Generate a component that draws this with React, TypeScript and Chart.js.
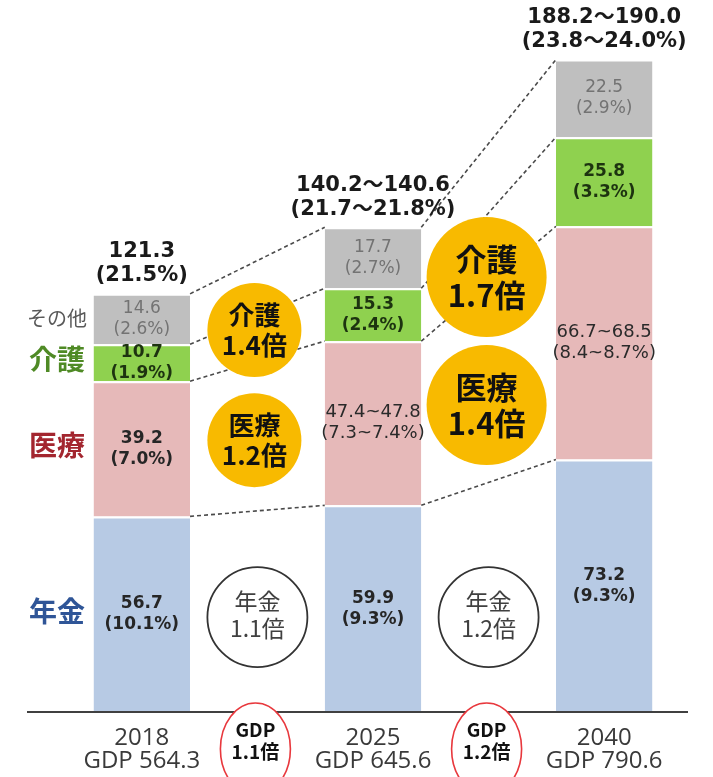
import React, { useEffect, useRef } from "react";
import { Chart, registerables } from "chart.js";

Chart.register(...registerables);

// ---- data ----
const years = ["2018", "", "2025", "", "2040"];
const gdpLabels = ["GDP 564.3", "", "GDP 645.6", "", "GDP 790.6"];
const seriesNames = ["年金", "医療", "介護", "その他"];
const pension = [56.7, null, 59.9, null, 73.2];
const medical = [39.2, null, 47.6, null, 67.6];
const care = [10.7, null, 15.3, null, 25.8];
const other = [14.6, null, 17.7, null, 22.5];

const pensionText = [["56.7", "(10.1%)"], null, ["59.9", "(9.3%)"], null, ["73.2", "(9.3%)"]];
const medicalText = [["39.2", "(7.0%)"], null, ["47.4~47.8", "(7.3~7.4%)"], null, ["66.7~68.5", "(8.4~8.7%)"]];
const careText = [["10.7", "(1.9%)"], null, ["15.3", "(2.4%)"], null, ["25.8", "(3.3%)"]];
const otherText = [["14.6", "(2.6%)"], null, ["17.7", "(2.7%)"], null, ["22.5", "(2.9%)"]];
const totalText = [["121.3", "(21.5%)"], null, ["140.2～140.6", "(21.7～21.8%)"], null, ["188.2～190.0", "(23.8～24.0%)"]];

const careGrowth = ["介護", "1.4倍", "介護", "1.7倍"];
const medicalGrowth = ["医療", "1.2倍", "医療", "1.4倍"];
const pensionGrowth = ["年金", "1.1倍", "年金", "1.2倍"];
const gdpGrowth = ["GDP", "1.1倍", "GDP", "1.2倍"];

// ---- styles ----
const COLORS = ["#b7cae4", "#e6b9b9", "#8fd14f", "#bfbfbf"];
const LEFT_COLORS = ["#2f5597", "#a3262f", "#4f8a25", "#595959"];
const NUM = '"DejaVu Sans", "Noto Sans CJK JP", sans-serif';
const JP = '"Noto Sans CJK JP", sans-serif';

function lines(ctx: CanvasRenderingContext2D, arr: string[], x: number, yc: number, lh: number) {
  const n = arr.length;
  arr.forEach((t, i) => ctx.fillText(t, x, yc + (i - (n - 1) / 2) * lh));
}

const overlay = {
  id: "overlay",
  afterDatasetsDraw(chart: any) {
    const ctx: CanvasRenderingContext2D = chart.ctx;
    const xs = chart.scales.x;
    const ys = chart.scales.y;
    const metas = [0, 1, 2, 3].map((i) => chart.getDatasetMeta(i));
    const bar = (i: number, j: number) => metas[i].data[j].getProps(["x", "y", "base", "width"], true);

    ctx.save();
    // dashed connectors
    ctx.strokeStyle = "#4a4a4a";
    ctx.lineWidth = 1.6;
    ctx.setLineDash([4, 3]);
    [[0, 2], [2, 4]].forEach(([a, b]) => {
      for (let i = 0; i < 4; i++) {
        const p = bar(i, a);
        const q = bar(i, b);
        ctx.beginPath();
        ctx.moveTo(p.x + p.width / 2, p.y);
        ctx.lineTo(q.x - q.width / 2, q.y);
        ctx.stroke();
      }
    });
    ctx.setLineDash([]);

    // yellow bubbles
    const bubbles = [
      { slot: 1, v: 110.7, r: 47, size: 26, txt: careGrowth.slice(0, 2) },
      { slot: 1, v: 78.8, r: 47, size: 26, txt: medicalGrowth.slice(0, 2) },
      { slot: 3, v: 126.1, r: 60, size: 31, txt: careGrowth.slice(2, 4) },
      { slot: 3, v: 89.0, r: 60, size: 31, txt: medicalGrowth.slice(2, 4) },
    ];
    bubbles.forEach((b) => {
      const cx = xs.getPixelForValue(b.slot) - (b.slot === 1 ? 3 : 2);
      const cy = ys.getPixelForValue(b.v);
      ctx.beginPath();
      ctx.arc(cx, cy, b.r, 0, Math.PI * 2);
      ctx.fillStyle = "#f8ba00";
      ctx.fill();
      ctx.fillStyle = "#111";
      ctx.font = `bold ${b.size}px ${JP}`;
      ctx.textAlign = "center";
      ctx.textBaseline = "middle";
      lines(ctx, b.txt, cx, cy, b.size * 1.15);
    });

    // pension circles
    [1, 3].forEach((slot, k) => {
      const cx = xs.getPixelForValue(slot);
      const cy = ys.getPixelForValue(27.5);
      ctx.beginPath();
      ctx.arc(cx, cy, 50, 0, Math.PI * 2);
      ctx.fillStyle = "#fff";
      ctx.fill();
      ctx.strokeStyle = "#333";
      ctx.lineWidth = 1.8;
      ctx.stroke();
      ctx.fillStyle = "#404040";
      ctx.font = `23px ${JP}`;
      ctx.textAlign = "center";
      ctx.textBaseline = "middle";
      lines(ctx, pensionGrowth.slice(k * 2, k * 2 + 2), cx, cy - 2, 27);
    });

    // segment labels
    const texts = [pensionText, medicalText, careText, otherText];
    ctx.textAlign = "center";
    ctx.textBaseline = "middle";
    for (let i = 0; i < 4; i++) {
      metas[i].data.forEach((el: any, j: number) => {
        const t = texts[i][j];
        if (!t) return;
        const p = bar(i, j);
        const yc = (p.y + p.base) / 2;
        const isRange = t[0].includes("~");
        if (i === 3) {
          ctx.font = `17px ${NUM}`;
          ctx.fillStyle = "#737373";
        } else if (isRange) {
          ctx.font = `18px ${NUM}`;
          ctx.fillStyle = "#2a2a2a";
        } else {
          ctx.font = `bold 17px ${NUM}`;
          ctx.fillStyle = i === 2 ? "#1d3310" : "#262626";
        }
        lines(ctx, t, p.x, yc, 21);
      });
    }

    // totals
    ctx.font = `bold 21px ${NUM}`;
    ctx.fillStyle = "#1a1a1a";
    totalText.forEach((t, j) => {
      if (!t) return;
      const p = bar(3, j);
      ctx.fillText(t[0], p.x, p.y - 42);
      ctx.fillText(t[1], p.x, p.y - 18);
    });

    // left series labels
    const first = [0, 1, 2, 3].map((i) => bar(i, 0));
    first.forEach((p, i) => {
      const yc = (p.y + p.base) / 2;
      ctx.fillStyle = LEFT_COLORS[i];
      ctx.font = i === 3 ? `20px ${JP}` : `bold 28px ${JP}`;
      ctx.fillText(seriesNames[i], 57, i === 3 ? yc - 1 : yc - 3);
    });
    ctx.restore();
  },
  afterDraw(chart: any) {
    const ctx: CanvasRenderingContext2D = chart.ctx;
    const xs = chart.scales.x;
    const base = chart.chartArea.bottom;
    ctx.save();
    ctx.strokeStyle = "#404040";
    ctx.lineWidth = 2;
    ctx.beginPath();
    ctx.moveTo(27, base);
    ctx.lineTo(688, base);
    ctx.stroke();

    [1, 3].forEach((slot, k) => {
      const cx = xs.getPixelForValue(slot) - 2;
      const cy = base + 37;
      ctx.beginPath();
      ctx.ellipse(cx, cy, 35, 46, 0, 0, Math.PI * 2);
      ctx.fillStyle = "#fff";
      ctx.fill();
      ctx.strokeStyle = "#e8383d";
      ctx.lineWidth = 1.6;
      ctx.stroke();
      ctx.fillStyle = "#111";
      ctx.font = `bold 19px ${JP}`;
      ctx.textAlign = "center";
      ctx.textBaseline = "middle";
      ctx.fillText(gdpGrowth[k * 2], cx, base + 18);
      ctx.fillText(gdpGrowth[k * 2 + 1], cx, base + 40);
    });
    ctx.restore();
  },
};

export default function App() {
  const ref = useRef<HTMLCanvasElement>(null);
  useEffect(() => {
    document.body.style.margin = "0";
    const series = [pension, medical, care, other];
    const chart = new Chart(ref.current!, {
      type: "bar",
      data: {
        labels: years.map((y, i) => (y ? [y, gdpLabels[i]] : "")),
        datasets: series.map((d, i) => ({
          label: seriesNames[i],
          data: d,
          backgroundColor: COLORS[i],
          borderColor: "#ffffff",
          borderWidth: { top: 2, left: 0, right: 0, bottom: 0 },
          borderSkipped: false,
          categoryPercentage: 1,
          barPercentage: 0.835,
        })),
      },
      options: {
        responsive: false,
        animation: false,
        layout: { padding: { left: 84, right: 51, top: 22, bottom: 0 } },
        plugins: { legend: { display: false }, tooltip: { enabled: false } },
        scales: {
          x: {
            stacked: true,
            grid: { display: false, drawTicks: false },
            border: { display: false },
            ticks: {
              autoSkip: false,
              maxRotation: 0,
              padding: 14,
              color: "#3a3a3a",
              font: { family: '"Open Sans", sans-serif', size: 24, lineHeight: 0.98 },
            },
            afterFit: (s: any) => {
              s.height = 65;
            },
          },
          y: { stacked: true, display: false, min: 0, max: 200 },
        },
      },
      plugins: [overlay],
    });
    return () => chart.destroy();
  }, []);
  return (
    <div style={{ width: 713, height: 777 }}>
      <canvas ref={ref} width={713} height={777} style={{ display: "block" }} />
    </div>
  );
}
